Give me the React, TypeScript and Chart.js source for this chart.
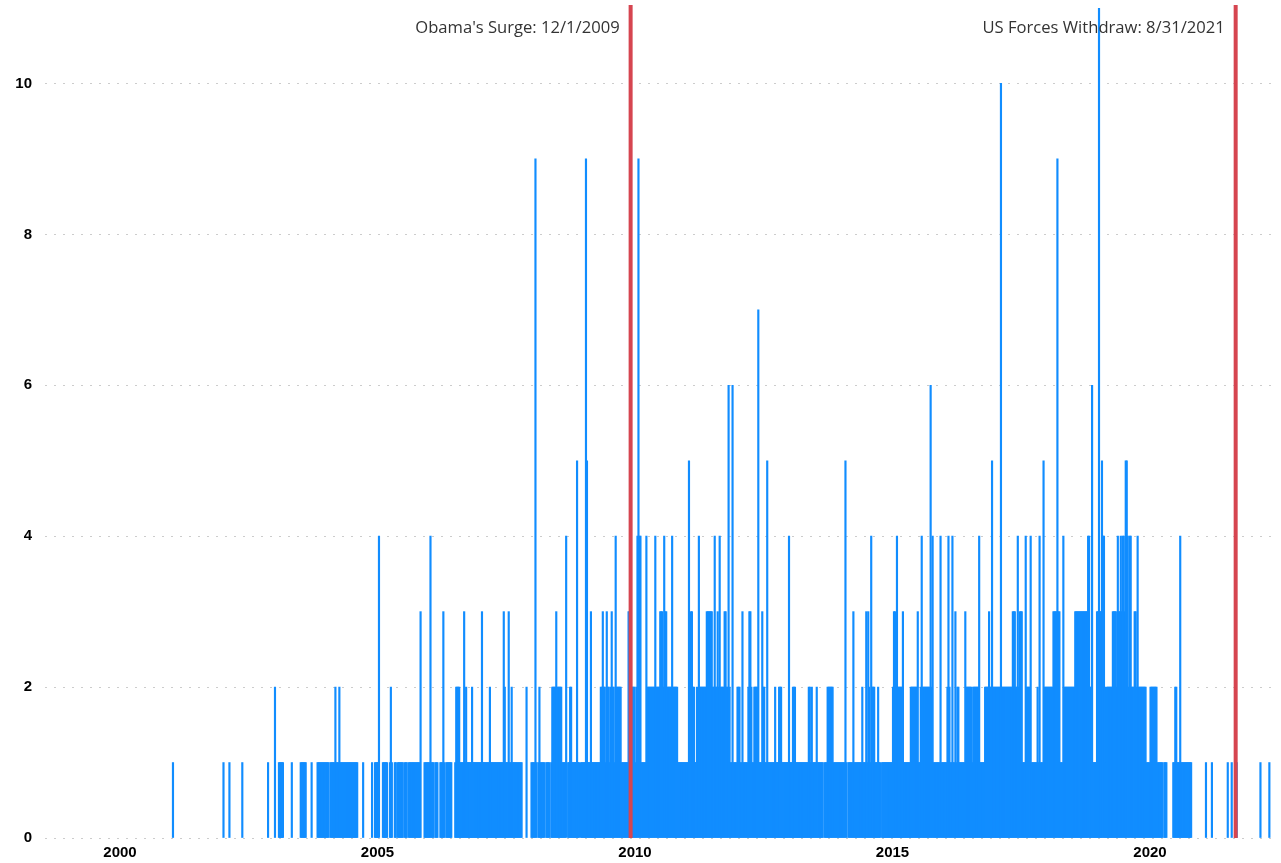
import React, { useEffect, useRef } from "react";
import { Chart, registerables } from "chart.js";

Chart.register(...registerables);

// Years covered by the weekly counts (one string per year, one character per week: 0-9, a=10, b=11)
const years = [
  2001, 2002, 2003, 2004, 2005, 2006, 2007, 2008, 2009, 2010, 2011,
  2012, 2013, 2014, 2015, 2016, 2017, 2018, 2019, 2020, 2021, 2022,
];

const weeklyCounts = [
  "01",
  "1000001000000000000100000000000000000000000001",
  "2000111110000000010000000011111100000100000111111111",
  "1110111112111211111111111111111100000100000000100111",
  "1400011111001210011011111101110111111111111300011111",
  "1411101110011131011111100012222111131211111211111111",
  "1311111112111111111111132111311211111111110000200001",
  "1119101211111011110122223222221111401122111115110111",
  "1195111311111111122322132212322142222211111113322222",
  "1249441111142222222242222333243322222422222111111111",
  "1152332211214222222233333322422324222233226211611112",
  "2211311111233211222271113221151111111211122211111114",
  "1112221111111111111221211112111111011122222211111111",
  "1111510111113111111112111313214222111211011111111111",
  "2332422222311111112222222311242222222262411111114111",
  "1112421141131221111113222222122222241111122223225222",
  "22222a2222222222233322423331114222241111112141115222",
  "2222223333933111422222222222333333333333344226111133",
  "b335442122222233332433434435542442223324222222221111",
  "222222211111101110000001122111411111111111",
  "000010000010000000000000001000100001",
  "00000001000000001",
];

const xTickYears = [2000, 2005, 2010, 2015, 2020];
const yTickValues = [0, 2, 4, 6, 8, 10];

// 12/1/2009 and 8/31/2021 as decimal years
const markerDates = [2009.915, 2021.663];
const markerLabels = ["Obama's Surge: 12/1/2009", "US Forces Withdraw: 8/31/2021"];

const WEEKS_PER_YEAR = 52;

function buildPoints() {
  const pts: { x: number; y: number }[] = [];
  years.forEach((yr, k) => {
    const s = weeklyCounts[k];
    for (let i = 0; i < s.length; i++) {
      const v = parseInt(s[i], 36);
      if (v > 0) pts.push({ x: yr + (i + 0.5) / WEEKS_PER_YEAR, y: v });
    }
  });
  return pts;
}

const markerPlugin = {
  id: "markers",
  afterDatasetsDraw(chart: any) {
    const { ctx, chartArea, scales } = chart;
    const xs = scales.x;
    ctx.save();
    markerDates.forEach((d, k) => {
      const px = xs.getPixelForValue(d);
      ctx.strokeStyle = "#D64550";
      ctx.lineWidth = 4;
      ctx.beginPath();
      ctx.moveTo(px, 5);
      ctx.lineTo(px, chartArea.bottom);
      ctx.stroke();
      ctx.fillStyle = "#333333";
      ctx.font = '16.6px "Open Sans"';
      ctx.textAlign = "right";
      ctx.textBaseline = "middle";
      ctx.fillText(markerLabels[k], px - 11, 28);
    });
    ctx.restore();
  },
};

export default function App() {
  const ref = useRef<HTMLCanvasElement | null>(null);

  useEffect(() => {
    if (!ref.current) return;
    const tickFont = { family: "Liberation Sans", size: 15, weight: "bold" as const };
    const chart = new Chart(ref.current, {
      type: "bar",
      data: {
        datasets: [
          {
            data: buildPoints(),
            backgroundColor: "#118DFF",
            borderWidth: 0,
            barThickness: 1.5,
          } as any,
        ],
      },
      options: {
        responsive: false,
        animation: false,
        layout: { padding: { left: 0, right: 3, top: 8, bottom: 0 } },
        plugins: {
          legend: { display: false },
          tooltip: { enabled: false },
        },
        scales: {
          x: {
            type: "linear",
            min: 1998.544,
            max: 2022.485,
            offset: false,
            afterBuildTicks: (s: any) => {
              s.ticks = xTickYears.map((v) => ({ value: v }));
            },
            afterFit: (s: any) => {
              s.height = 25;
              s.paddingLeft = 0;
              s.paddingRight = 0;
            },
            grid: { display: false, drawTicks: false, offset: false },
            border: { display: false },
            ticks: {
              padding: 6,
              maxRotation: 0,
              autoSkip: false,
              color: "#000",
              font: tickFont,
              callback: (v: any) => String(v),
            },
          },
          y: {
            min: 0,
            max: 11,
            afterBuildTicks: (s: any) => {
              s.ticks = yTickValues.map((v) => ({ value: v }));
            },
            afterFit: (s: any) => {
              s.width = 45;
              s.paddingTop = 0;
              s.paddingBottom = 0;
            },
            grid: { color: "#cccccc", lineWidth: 1, drawTicks: false },
            border: { display: false, dash: [2, 7] },
            ticks: {
              padding: 13,
              color: "#000",
              font: tickFont,
              callback: (v: any) => String(v),
            },
          },
        },
      } as any,
      plugins: [markerPlugin],
    });
    return () => chart.destroy();
  }, []);

  return (
    <div style={{ position: "fixed", left: 0, top: 0, width: 1281, height: 863, background: "#fff" }}>
      <canvas ref={ref} width={1281} height={863} style={{ display: "block" }} />
    </div>
  );
}
